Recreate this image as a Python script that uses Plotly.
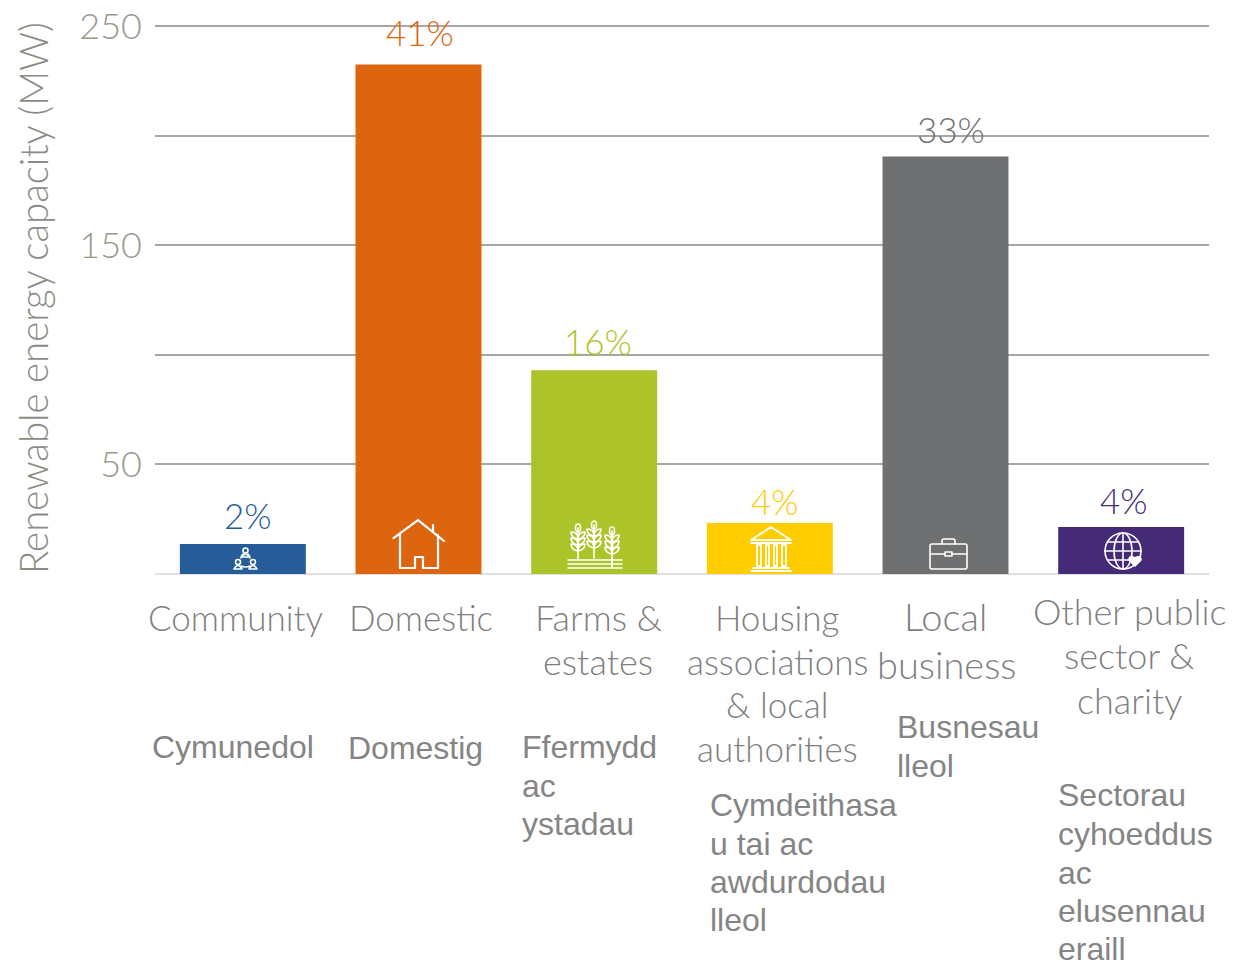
import base64
import plotly.graph_objects as go

categories = ["Community", "Domestic", "Farms & estates", "Housing associations & local authorities", "Local business", "Other public sector & charity"]
capacity_mw = [13.7, 232.6, 93.0, 23.3, 190.6, 21.4]
percent_labels = ["2%", "41%", "16%", "4%", "33%", "4%"]
bar_colors = ["#255C99", "#DE6510", "#ACC42A", "#FFCC00", "#6F7072", "#452A78"]
y_tick_values = [0, 50, 100, 150, 200, 250]
y_tick_labels = ["", "50", "", "150", "", "250"]
y_title = "Renewable energy capacity (MW)"

english_lines = [
    [("Community", 235, 617)],
    [("Domestic", 421, 617)],
    [("Farms &", 598, 617), ("estates", 598, 661)],
    [("Housing", 777, 617), ("associations", 777, 661), ("& local", 777, 704), ("authorities", 777, 748)],
    [("Local", 945, 616), ("business", 946, 664)],
    [("Other public", 1129, 611), ("sector &", 1129, 655), ("charity", 1129, 700)],
]
english_sizes = [35, 35, 36, 35, 38, 36]
welsh_lines = [
    [("Cymunedol", 153, 747)],
    [("Domestig", 349, 748)],
    [("Ffermydd", 523, 747), ("ac", 523, 786), ("ystadau", 523, 824)],
    [("Cymdeithasa", 711, 805), ("u tai ac", 711, 844), ("awdurdodau", 711, 882), ("lleol", 711, 920)],
    [("Busnesau", 898, 727), ("lleol", 898, 766)],
    [("Sectorau", 1059, 795), ("cyhoeddus", 1059, 834), ("ac", 1059, 873), ("elusennau", 1059, 911), ("eraill", 1059, 949)],
]
percent_positions = [(248, 515), (420, 32), (598, 341), (775, 501), (951, 129), (1124, 500)]

W, H = 1243, 964
Y_MAX = 252
L, R, B = 155, 1209, 574
T = B - Y_MAX * 2.192
LIGHT = "Lato Light, Lato, sans-serif"


def px(x):
    return (x - L) / (R - L)


def py(y):
    return (B - y) / (B - T)


def icon(body, w, h):
    svg = (f'<svg xmlns="http://www.w3.org/2000/svg" width="{w}" height="{h}" viewBox="0 0 {w} {h}">'
           f'<g fill="none" stroke="#fff" stroke-width="1.6" stroke-linecap="round" stroke-linejoin="round">{body}</g></svg>')
    return "data:image/svg+xml;base64," + base64.b64encode(svg.encode()).decode()


wheat = ""
for cx, top, bot in [(11, 4, 40), (27, 1, 38), (45, 7, 47)]:
    wheat += f'<path d="M{cx} {top+4}V{bot}"/><ellipse cx="{cx}" cy="{top+4}" rx="2.5" ry="4"/>'
    for k in (8, 14, 20):
        wheat += f'<path d="M{cx} {top+k+7}c-6 -1 -7 -4 -7 -7c5 0 7 3 7 7zM{cx} {top+k+7}c6 -1 7 -4 7 -7c-5 0 -7 3 -7 7z"/>'
wheat += '<path d="M1 40H55M1 44H55M1 48H55"/>'

temple = ('<path d="M3 15L23 2L43 15ZM3 18H43M9 20H13V41H9ZM18 20H21V41H18ZM26 20H29V41H26ZM34 20H38V41H34Z'
          'M5 43H41M3 46H43" stroke-width="1.8"/>')
icons = [
    (icon('<circle cx="12.500" cy="3.500" r="2.500"/><circle cx="5" cy="15" r="2.500"/><circle cx="20" cy="15" r="2.500"/>'
          '<path d="M8 11A7 7 0 0 1 10 7M15 7A7 7 0 0 1 17 11M8 19Q12.500 21 17 19M1 22Q5 15 9 22ZM16 22Q20 15 24 22ZM9 10Q12.500 4 16 10Z"/>', 25, 23), 233, 547),
    (icon('<path d="M1.500 19L26 1L41 13M41 13V6M41 13L52 22M8 16V49H23V38H31V49H46V16" stroke-width="2.2"/>', 54, 50), 392, 519),
    (icon(wheat, 56, 50), 567, 520),
    (icon(temple, 46, 48), 748, 525),
    (icon('<rect x="1" y="6" width="37" height="25" rx="2"/><path d="M13 6V3Q13 1 15 1H24Q26 1 26 3V6M1 16H16M23 16H38"/><rect x="16" y="14" width="7" height="4"/>', 39, 32), 929, 538),
    (icon('<circle cx="19" cy="20" r="18"/><ellipse cx="19" cy="20" rx="9" ry="18"/><path d="M19 2V38M1 20H37M4 11H34M4 29H34"/>'
          '<path d="M31 35L25 29Q25 25 29 26L31 27L33 26Q37 25 37 29Z" fill="#fff"/>', 40, 40), 1104, 531),
]
sizes = [(25, 23), (54, 50), (56, 50), (46, 48), (39, 32), (40, 40)]

fig = go.Figure(go.Bar(
    x=categories, y=capacity_mw, marker=dict(color=bar_colors, line=dict(width=0)),
    width=0.717, hoverinfo="skip", showlegend=False,
))

annotations = []
for label, color, (x, y) in zip(percent_labels, bar_colors, percent_positions):
    annotations.append(dict(text=label, x=px(x), y=py(y), xref="paper", yref="paper", showarrow=False,
                            xanchor="center", yanchor="middle", font=dict(family=LIGHT, size=35, color=color)))
for group, fs in zip(english_lines, english_sizes):
    for text, x, y in group:
        annotations.append(dict(text=text.replace("&", "&amp;"), x=px(x), y=py(y), xref="paper", yref="paper", showarrow=False,
                                xanchor="center", yanchor="middle", font=dict(family=LIGHT, size=fs, color="#7F7F7F")))
for group in welsh_lines:
    for text, x, y in group:
        annotations.append(dict(text=text, x=px(x - 3), y=py(y), xref="paper", yref="paper", showarrow=False,
                                xanchor="left", yanchor="middle", font=dict(family="Liberation Sans", size=32, color="#858585")))

fig.update_layout(
    width=W, height=H, margin=dict(l=L, r=W - R, t=T, b=H - B),
    paper_bgcolor="white", plot_bgcolor="white",
    annotations=annotations,
    images=[
        dict(source=src, xref="paper", yref="paper", x=px(x), y=py(y), sizex=w / (R - L), sizey=h / (B - T),
             sizing="stretch", xanchor="left", yanchor="top", layer="above")
        for (src, x, y), (w, h) in zip(icons, sizes)
    ],
    xaxis=dict(showticklabels=False, showgrid=False, zeroline=False, showline=False, ticks=""),
    yaxis=dict(range=[0, Y_MAX], tickvals=y_tick_values, ticktext=y_tick_labels,
               tickfont=dict(family=LIGHT, size=36, color="#9A9A8C"), ticklabelstandoff=12,
               gridcolor="#A6A6A6", gridwidth=1.5, zeroline=True, zerolinecolor="#E0E0E0", zerolinewidth=2,
               ticks="", automargin=False,
               title=dict(text=y_title, standoff=18, font=dict(family=LIGHT, size=38.4, color="#8C8C84"))),
)

fig.write_html("out.html", config=dict(displayModeBar=False),
               post_script="document.body.style.margin='0';document.body.style.overflow='hidden';")
